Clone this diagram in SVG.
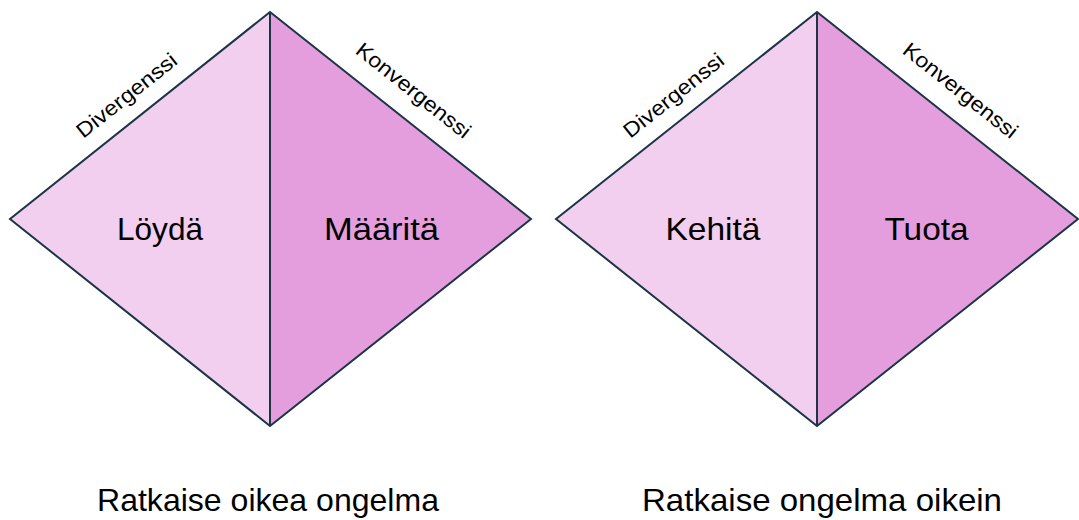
<svg xmlns="http://www.w3.org/2000/svg" width="1079" height="520" viewBox="0 0 1079 520">
  <style>
    .light { fill: #F2CEEF; }
    .dark { fill: #E59EDD; }
    .edge { fill: none; stroke: #1B3545; stroke-width: 2; stroke-linejoin: miter; }
    .main { font-family: "Liberation Sans", Arial, sans-serif; font-size: 32px; fill: #000; text-anchor: middle; }
    .diag { font-family: "Liberation Sans", Arial, sans-serif; font-size: 21px; fill: #000; text-anchor: middle; }
  </style>
  <rect width="1079" height="520" fill="#FFFFFF"/>

  <g id="diamond-left">
    <polygon class="light" points="270,12 270,426 10,219"/>
    <polygon class="dark" points="270,12 531,219 270,426"/>
    <polygon class="edge" points="270,12 531,219 270,426 10,219"/>
    <line class="edge" x1="270" y1="12" x2="270" y2="426"/>
    <text class="main" x="160" y="240" textLength="86" lengthAdjust="spacingAndGlyphs">Löydä</text>
    <text class="main" x="381.5" y="240" textLength="115" lengthAdjust="spacingAndGlyphs">Määritä</text>
    <text class="diag" transform="translate(131,101) rotate(-38.5)" textLength="122" lengthAdjust="spacingAndGlyphs">Divergenssi</text>
    <text class="diag" transform="translate(409,96) rotate(38.5)" textLength="140" lengthAdjust="spacingAndGlyphs">Konvergenssi</text>
  </g>

  <g id="diamond-right">
    <polygon class="light" points="817,12 817,426 556,219"/>
    <polygon class="dark" points="817,12 1078,219 817,426"/>
    <polygon class="edge" points="817,12 1078,219 817,426 556,219"/>
    <line class="edge" x1="817" y1="12" x2="817" y2="426"/>
    <text class="main" x="713" y="240" textLength="95" lengthAdjust="spacingAndGlyphs">Kehitä</text>
    <text class="main" x="926.5" y="240" textLength="84" lengthAdjust="spacingAndGlyphs">Tuota</text>
    <text class="diag" transform="translate(678,101) rotate(-38.5)" textLength="122" lengthAdjust="spacingAndGlyphs">Divergenssi</text>
    <text class="diag" transform="translate(956,96) rotate(38.5)" textLength="140" lengthAdjust="spacingAndGlyphs">Konvergenssi</text>
  </g>

  <g id="captions">
    <text class="main" x="268" y="511" textLength="342" lengthAdjust="spacingAndGlyphs">Ratkaise oikea ongelma</text>
    <text class="main" x="822" y="511" textLength="360" lengthAdjust="spacingAndGlyphs">Ratkaise ongelma oikein</text>
  </g>
</svg>
